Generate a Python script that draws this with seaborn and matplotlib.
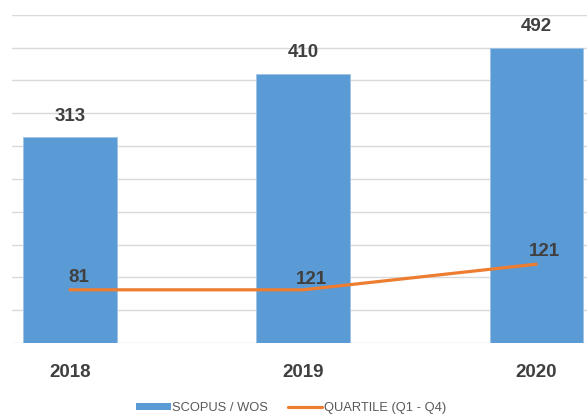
import matplotlib
matplotlib.use("Agg")
import matplotlib.pyplot as plt
import matplotlib.patches as mpatches
import matplotlib.lines as mlines
import seaborn as sns

# данные с картинки
years = ["2018", "2019", "2020"]
scopus_heights = [313, 410, 450]          # высота столбцов, как нарисовано
scopus_labels = ["313", "410", "492"]     # подписи над столбцами
quartile_line = [81, 81, 120]             # положение линии, как нарисовано
quartile_labels = ["81", "121", "121"]

BAR_COLOR = "#5B9BD5"
LINE_COLOR = "#ED7D31"
TEXT_COLOR = "#404040"
FS = 13.5

sns.set_theme(style="white")
plt.rcParams["font.family"] = ["Liberation Sans", "DejaVu Sans"]

fig = plt.figure(figsize=(5.87, 4.18), dpi=100)
ax = fig.add_axes([12 / 587, 1 - 343 / 418, 1 - 12 / 587, (343 - 14.7) / 418])

sns.barplot(x=years, y=scopus_heights, ax=ax, color=BAR_COLOR, saturation=1,
            width=0.4, edgecolor="#9DC3E6", linewidth=0.6, zorder=3)
sns.pointplot(x=years, y=quartile_line, ax=ax, color=LINE_COLOR, marker="",
              linewidth=2.3, errorbar=None, zorder=4)

# подписи столбцов
for i, lab in enumerate(scopus_labels):
    ax.annotate(lab, (i, scopus_heights[i]), xytext=(0, 9), textcoords="offset points",
                ha="center", va="bottom", fontsize=FS, fontweight="bold", color=TEXT_COLOR)

# подписи линии
line_offsets = [(6, 3), (6, 1), (6, 3)]
for i, lab in enumerate(quartile_labels):
    ax.annotate(lab, (i, quartile_line[i]), xytext=line_offsets[i], textcoords="offset points",
                ha="center", va="bottom", fontsize=FS, fontweight="bold", color=TEXT_COLOR)

ax.set_ylim(0, 500)
ax.set_yticks(range(0, 501, 50))
ax.set_yticklabels([])
ax.set_xlim(-0.249, 2.218)
ax.grid(axis="y", color="#D9D9D9", linewidth=1.0, zorder=0)
ax.grid(axis="x", visible=False)
ax.set_axisbelow(True)
for s in ax.spines.values():
    s.set_visible(False)
ax.tick_params(axis="x", length=0, pad=15, labelsize=FS, labelcolor=TEXT_COLOR)
ax.tick_params(axis="y", length=0)
for t in ax.get_xticklabels():
    t.set_fontweight("bold")
ax.set_xlabel("")
ax.set_ylabel("")

handles = [
    mpatches.Patch(facecolor=BAR_COLOR, edgecolor="none", label="SCOPUS / WOS"),
    mlines.Line2D([], [], color=LINE_COLOR, linewidth=2.3, label="QUARTILE (Q1 - Q4)"),
]
fig.legend(handles=handles, loc="center", bbox_to_anchor=(291 / 587, 1 - 408 / 418),
           ncol=2, frameon=False, fontsize=9.3, labelcolor="#595959",
           handlelength=2.7, handleheight=0.5, handletextpad=0.1, columnspacing=1.5)

fig.savefig("out.png", dpi=100)
